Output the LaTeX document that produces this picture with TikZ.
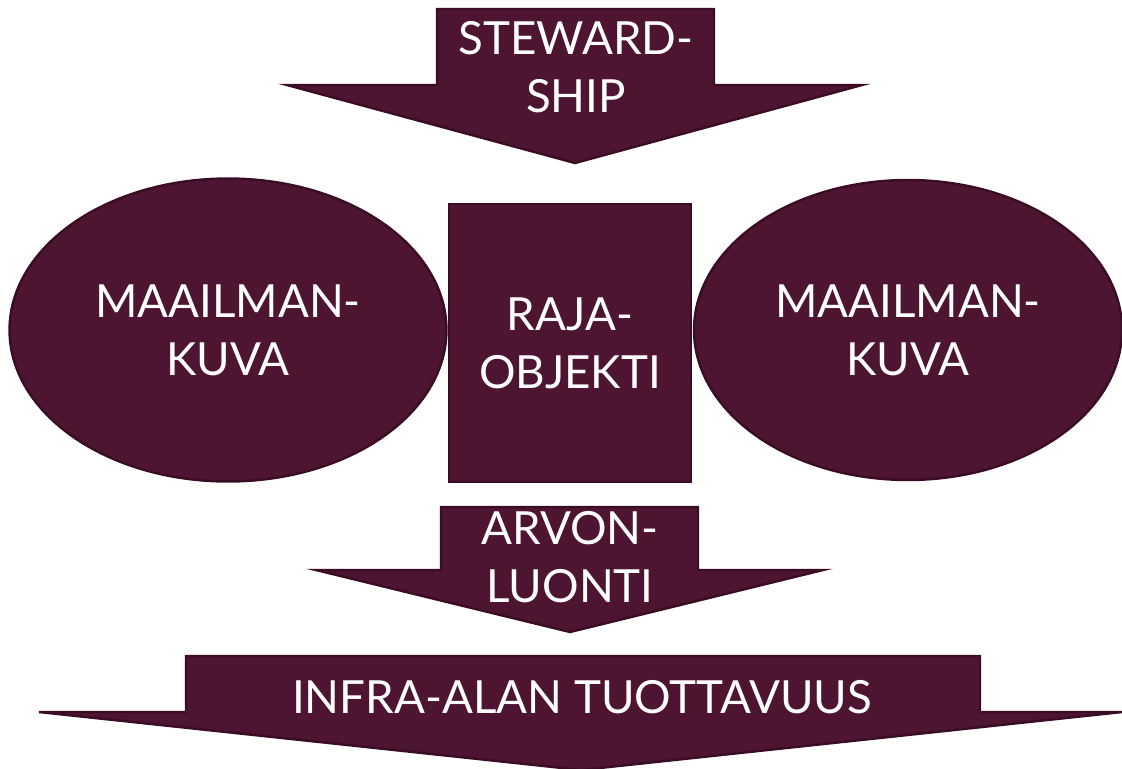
\documentclass[tikz,border=0pt]{standalone}
\usepackage{fontspec}
\setmainfont{Lato}
\usetikzlibrary{shapes.geometric}

\definecolor{wine}{HTML}{4E1533}
\definecolor{winedark}{HTML}{3A0D24}

\tikzset{
  blob/.style={fill=wine,draw=winedark,line width=1.4pt},
  lbl/.style={text=white,align=center,font=\fontsize{26}{33}\selectfont},
}

\begin{document}
\begin{tikzpicture}[x=0.02cm,y=-0.02cm]
  % canvas 1122 x 768, units are pixels, y runs down
  \useasboundingbox (0,0) rectangle (1122,768);

  % Block arrows: shaft left/right, shaft top, shoulder, wing left/right, tip
  \foreach \xa/\xb/\ya/\yb/\wa/\wb/\tx/\ty in {%
    437/714/9/85/287/862/575/163,
    441/698/507/570/316/823/570/632,
    186/980/656/712/39/1122/581/770} {
    \draw[blob] (\xa,\ya) -- (\xb,\ya) -- (\xb,\yb) -- (\wb,\yb)
      -- (\tx,\ty) -- (\wa,\yb) -- (\xa,\yb) -- cycle;
  }

  % Arrow labels
  \node[lbl] (steward) at (576,67) {STEWARD-\\SHIP};
  \node[lbl] (arvo) at (570,557) {ARVON-\\LUONTI};
  \node[lbl] (tuotto) at (582,697) {INFRA-ALAN TUOTTAVUUS};

  % The two world views and the boundary object between them
  \node[blob,ellipse,lbl,minimum width=8.74cm,minimum height=6.06cm]
    (kuvaL) at (228,330) {MAAILMAN-\\KUVA};
  \node[blob,rectangle,lbl,minimum width=4.84cm,minimum height=5.56cm]
    (raja) at (570,343) {RAJA-\\OBJEKTI};
  \node[blob,ellipse,lbl,minimum width=8.56cm,minimum height=6.0cm]
    (kuvaR) at (908,330) {MAAILMAN-\\KUVA};
\end{tikzpicture}
\end{document}
